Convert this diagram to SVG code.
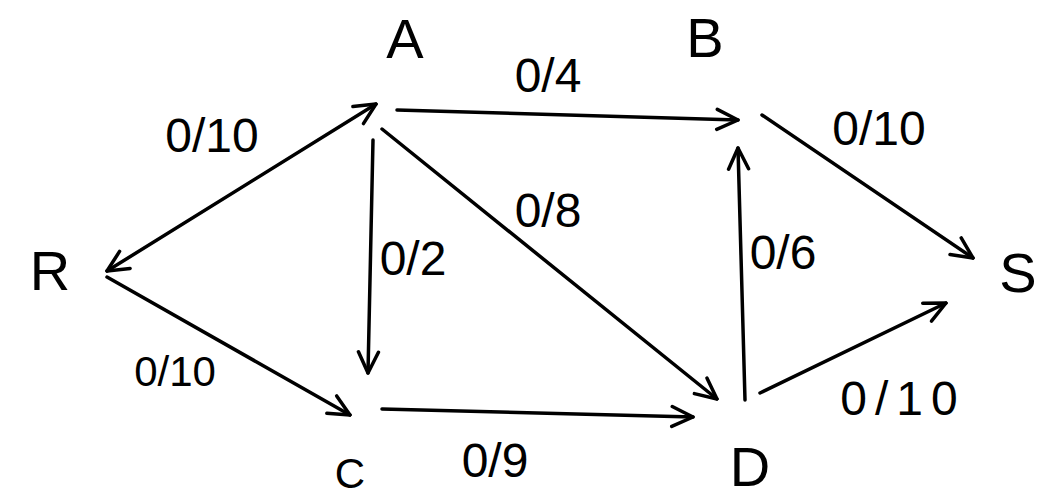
<svg xmlns="http://www.w3.org/2000/svg" width="1049" height="500" viewBox="0 0 1049 500">
  <style>
    .edge { stroke: #000; stroke-width: 3.5; fill: none; stroke-linecap: round; stroke-linejoin: round; }
    .node { font-family: "Liberation Sans", Arial, sans-serif; font-size: 56px; fill: #000; text-anchor: middle; }
    .lbl { font-family: "Liberation Sans", Arial, sans-serif; font-size: 48px; fill: #000; text-anchor: middle; }
  </style>
  <defs>
    <marker id="arrow" viewBox="0 0 26 26" refX="24" refY="13" markerWidth="26" markerHeight="26" markerUnits="userSpaceOnUse" orient="auto-start-reverse">
      <path d="M3,3 L24,13 L3,23" fill="none" stroke="#000" stroke-width="3.5" stroke-linecap="round" stroke-linejoin="round"/>
    </marker>
  </defs>
  <rect width="1049" height="500" fill="#fff"/>
  <g id="connectors">
    <line class="edge" x1="107" y1="271" x2="376" y2="104" marker-start="url(#arrow)" marker-end="url(#arrow)"/>
    <line class="edge" x1="397" y1="110" x2="738" y2="120" marker-end="url(#arrow)"/>
    <line class="edge" x1="762" y1="115" x2="973" y2="258" marker-end="url(#arrow)"/>
    <line class="edge" x1="373" y1="140" x2="368" y2="373" marker-end="url(#arrow)"/>
    <line class="edge" x1="382" y1="129" x2="717" y2="399" marker-end="url(#arrow)"/>
    <line class="edge" x1="745" y1="400" x2="738" y2="148" marker-end="url(#arrow)"/>
    <line class="edge" x1="760" y1="393" x2="946" y2="303" marker-end="url(#arrow)"/>
    <line class="edge" x1="107" y1="277" x2="350" y2="415" marker-end="url(#arrow)"/>
    <line class="edge" x1="382" y1="409" x2="693" y2="417" marker-end="url(#arrow)"/>
  </g>
  <g id="edge-labels">
    <text class="lbl" x="212" y="152">0/10</text>
    <text class="lbl" x="548" y="92">0/4</text>
    <text class="lbl" x="879" y="145">0/10</text>
    <text class="lbl" x="783" y="269">0/6</text>
    <text class="lbl" x="548" y="227">0/8</text>
    <text class="lbl" x="413" y="275">0/2</text>
    <text class="lbl" x="175" y="386" style="font-size:42px">0/10</text>
    <text class="lbl" x="903" y="415" letter-spacing="8">0/10</text>
    <text class="lbl" x="495" y="477">0/9</text>
  </g>
  <g id="node-A"><text class="node" x="405" y="58">A</text></g>
  <g id="node-B"><text class="node" x="705" y="57">B</text></g>
  <g id="node-R"><text class="node" x="50" y="290">R</text></g>
  <g id="node-S"><text class="node" x="1018" y="292">S</text></g>
  <g id="node-C"><text class="node" x="350" y="488" style="font-size:42px">C</text></g>
  <g id="node-D"><text class="node" x="750" y="486">D</text></g>
</svg>
